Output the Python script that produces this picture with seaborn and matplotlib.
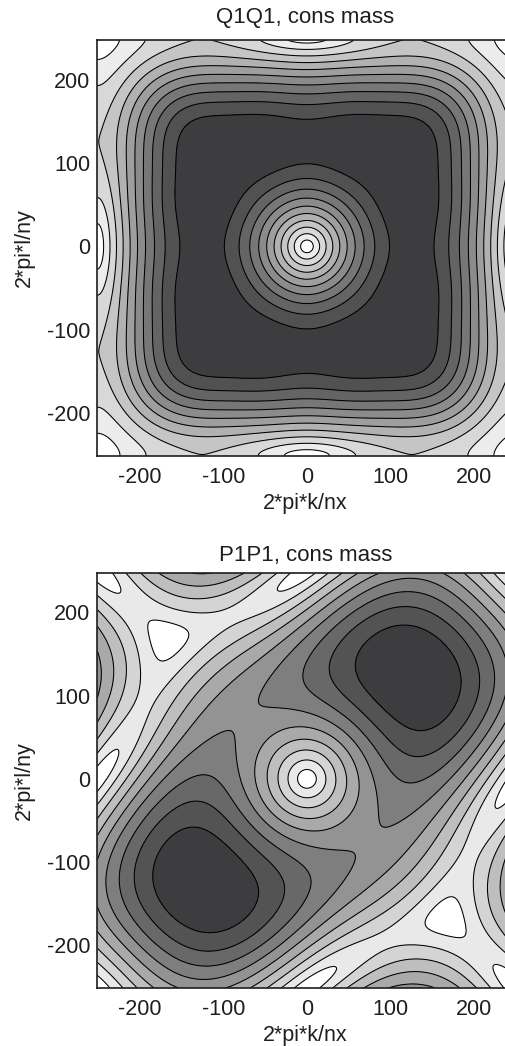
import numpy as np
import matplotlib
matplotlib.use("Agg")
import matplotlib.pyplot as plt
import seaborn as sns

# ---------------- data ----------------
NX = 128                      # number of wavenumbers per direction
SCALE = 80.0                  # 1/dx : axis = 2*pi*k/nx * SCALE
N_FINE = 601                  # sampling of the analytic symbol
# cross-direction weight of the Q1Q1 gradient symbol, read at cos(theta) knots
q1_w_cos = [-1.0, -0.25, 0.0, 0.27, 0.645, 1.0]
q1_w_val = [0.08, 0.47, 0.52, 0.58, 0.765, 1.0]

q1_levels = [0.0945, 0.189, 0.2835, 0.378, 0.4725, 0.567, 0.6615, 0.756, 0.8505, 0.945]
q1_colors = ["#ffffff", "#ececec", "#d8d8d8", "#c5c5c5", "#b1b1b1", "#9e9e9e",
             "#8b8b8b", "#777777", "#646464", "#515151", "#3d3d3f"]

p1_levels = [0.14, 0.28, 0.42, 0.56, 0.70, 0.84, 0.98, 1.12, 1.26]
p1_colors = ["#ffffff", "#e9e9e9", "#d4d4d4", "#bebebe", "#a9a9a9", "#939393",
             "#7e7e7e", "#686868", "#535353", "#3d3d3f"]

ticks = [-200, -100, 0, 100, 200]
titles = ["Q1Q1, cons mass", "P1P1, cons mass"]
title_pads = [12.5, 8.5]
xlabel = "2*pi*k/nx"
ylabel = "2*pi*l/ny"

# wavenumber grid (theta = k*dx)
theta = np.linspace(-np.pi, np.pi * (1 - 2.0 / NX), N_FINE)
A, B = np.meshgrid(theta, theta)
kx = A * SCALE
ly = B * SCALE

# Q1Q1 gradient symbol magnitude
w_coef = np.polyfit(q1_w_cos, q1_w_val, len(q1_w_cos) - 1)
wA = np.polyval(w_coef, np.cos(A))
wB = np.polyval(w_coef, np.cos(B))
V_q1 = np.sqrt(np.sin(A) ** 2 * wB + np.sin(B) ** 2 * wA)

# P1P1 gradient symbol magnitude (diagonal along k = l)
Gx = (2 * np.sin(A) + np.sin(A - B) + np.sin(B)) / 3.0
Gy = (2 * np.sin(B) - np.sin(A - B) + np.sin(A)) / 3.0
V_p1 = np.sqrt(Gx ** 2 + Gy ** 2)

# ---------------- style ----------------
sns.set_theme(style="white")
plt.rcParams["font.family"] = ["Liberation Sans", "DejaVu Sans"]
plt.rcParams["axes.unicode_minus"] = False
FS = 15.5
TXT = "#1e1e1e"

fig = plt.figure(figsize=(5.05, 10.46), dpi=100)
W, H = 505.0, 1046.0
ax1 = fig.add_axes([97.3 / W, (H - 456) / H, 416 / W, 416 / H])
ax2 = fig.add_axes([97.3 / W, (H - 988) / H, 416 / W, 415 / H])

for ax, V, lev, cols, title, tpad in [(ax1, V_q1, q1_levels, q1_colors, titles[0], title_pads[0]),
                                       (ax2, V_p1, p1_levels, p1_colors, titles[1], title_pads[1])]:
    bounds = [-1.0] + lev + [10.0]
    ax.contourf(kx, ly, V, levels=bounds, colors=cols)
    ax.contour(kx, ly, V, levels=lev, colors="black", linewidths=0.75)
    ax.set_xlim(kx.min(), kx.max())
    ax.set_ylim(ly.min(), ly.max())
    ax.set_xticks(ticks)
    ax.set_yticks(ticks)
    ax.tick_params(direction="in", length=0, labelsize=FS, pad=8, colors=TXT)
    ax.tick_params(axis="y", pad=5)
    ax.set_title(title, fontsize=16, pad=tpad, color=TXT)
    ax.set_xlabel(xlabel, fontsize=FS, labelpad=3.5, color=TXT)
    ax.set_ylabel(ylabel, fontsize=FS, labelpad=8.5, color=TXT)
    for s in ax.spines.values():
        s.set_color(TXT)
        s.set_linewidth(1.2)
        s.set_visible(True)

fig.savefig("out.png", dpi=100)
